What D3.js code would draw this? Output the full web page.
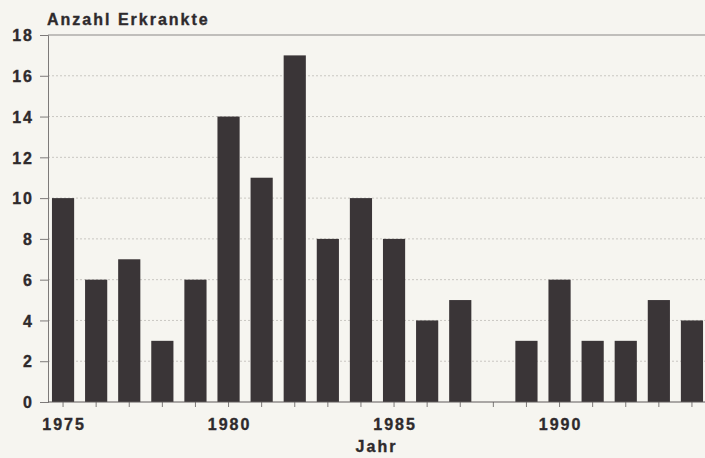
<!DOCTYPE html>
<html lang="de">
<head>
<meta charset="UTF-8">
<title>Anzahl Erkrankte</title>
<script src="https://d3js.org/d3.v7.min.js"></script>
<style>
    body { margin: 0; background: #f6f5f0; }
    svg { display: block; }
    text {
        font-family: "Liberation Sans", Arial, sans-serif;
        font-weight: bold;
        font-size: 16px;
        letter-spacing: 2px;
        fill: #2e2a2c;
        stroke: #2e2a2c;
        stroke-width: 0.35px;
    }
</style>
</head>
<body>
<svg width="705" height="458"></svg>
<script>
    // data
    const years = d3.range(1975, 1995);
    const cases = [10, 6, 7, 3, 6, 14, 11, 17, 8, 10, 8, 4, 5, 0, 3, 6, 3, 3, 5, 4];
    const yTicks = [0, 2, 4, 6, 8, 10, 12, 14, 16, 18];
    const labelledYears = [1975, 1980, 1985, 1990];

    const svg = d3.select("svg");
    const plot = {left: 48, right: 705, top: 35, bottom: 402};

    const x = d3.scaleBand()
        .domain(years)
        .range([46.5, 708.5])
        .paddingInner(0.33)
        .paddingOuter(0.165);

    const y = d3.scaleLinear()
        .domain([0, 18])
        .range([plot.bottom, plot.top]);

    // dotted grid
    svg.append("g")
        .selectAll("line")
        .data(yTicks.filter(d => d > 0 && d < 18))
        .join("line")
        .attr("x1", plot.left).attr("x2", plot.right)
        .attr("y1", d => y(d)).attr("y2", d => y(d))
        .attr("stroke", "#c9c7c2")
        .attr("stroke-dasharray", "2,2");

    // top line at 18
    svg.append("line")
        .attr("x1", plot.left).attr("x2", plot.right)
        .attr("y1", y(18)).attr("y2", y(18))
        .attr("stroke", "#8a8786")
        .attr("stroke-width", 1.2);

    // bars
    svg.append("g")
        .selectAll("rect")
        .data(years.map((yr, i) => ({yr, v: cases[i]})).filter(d => d.v > 0))
        .join("rect")
        .attr("x", d => x(d.yr))
        .attr("width", x.bandwidth())
        .attr("y", d => y(d.v))
        .attr("height", d => y(0) - y(d.v))
        .attr("fill", "#3a3537");

    // y axis
    const yAxis = svg.append("g")
        .attr("transform", `translate(${plot.left},0)`)
        .call(d3.axisLeft(y).tickValues(yTicks).tickSize(8).tickPadding(8));
    yAxis.select(".domain").attr("stroke", "#7d7a79");
    yAxis.selectAll(".tick line").attr("stroke", "#7d7a79");
    yAxis.selectAll(".tick text").attr("x", -14).attr("dy", "0.36em");

    // x axis
    const xAxis = svg.append("g")
        .attr("transform", `translate(0,${plot.bottom})`)
        .call(d3.axisBottom(x)
            .tickSize(5)
            .tickPadding(12)
            .tickFormat(d => labelledYears.includes(d) ? d : ""));
    xAxis.select(".domain").remove();
    xAxis.selectAll(".tick line").attr("stroke", "#7d7a79");
    xAxis.selectAll(".tick text").attr("dx", "1px");
    svg.append("line")
        .attr("x1", plot.left).attr("x2", plot.right)
        .attr("y1", plot.bottom).attr("y2", plot.bottom)
        .attr("stroke", "#5e5a5a")
        .attr("stroke-width", 1.2);

    // titles
    svg.append("text")
        .attr("x", 47).attr("y", 25)
        .text("Anzahl Erkrankte");

    svg.append("text")
        .attr("x", (plot.left + plot.right) / 2).attr("y", 452)
        .attr("text-anchor", "middle")
        .text("Jahr");
</script>
</body>
</html>
